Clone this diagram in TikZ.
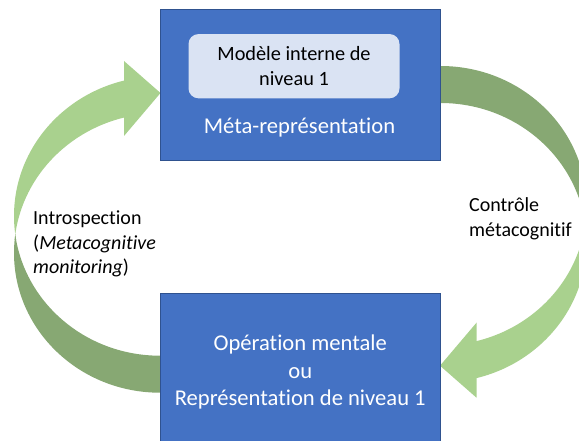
\documentclass[tikz,border=0pt]{standalone}
\usepackage{fontspec}
\setmainfont{Carlito}[Ligatures={NoCommon}]
\definecolor{boxblue}{HTML}{4472C4}
\definecolor{boxedge}{HTML}{2F528F}
\definecolor{innerfill}{HTML}{DAE3F3}
\definecolor{lightgreen}{HTML}{A9D18E}
\definecolor{darkgreen}{HTML}{87A873}
\begin{document}
\begin{tikzpicture}[x=1pt,y=-1pt,
  bluebox/.style={draw=boxedge, line width=0.8pt, fill=boxblue, inner sep=0pt},
  innerbox/.style={fill=innerfill, rounded corners=10pt, inner sep=0pt,
    minimum width=211pt, minimum height=64.3pt, align=center,
    font=\fontsize{20.3}{24.7}\selectfont},
  boxtext/.style={text=white, inner sep=0pt, align=center,
    font=\fontsize{22.6}{27.7}\selectfont},
  sidetext/.style={text=black, inner sep=0pt, align=left,
    font=\fontsize{20}{24.5}\selectfont},
  cyclearrow/.pic={
    \begin{scope}
      \clip (0,0) rectangle (125,240);
      \fill[lightgreen, even odd rule]
        (160,216) ellipse [x radius=146pt, y radius=139.7pt]
        (160,253) ellipse [x radius=146pt, y radius=139.7pt];
    \end{scope}
    \begin{scope}
      \clip (0,234.5) rectangle (160.5,441);
      \fill[darkgreen, even odd rule]
        (160,216) ellipse [x radius=146pt, y radius=139.7pt]
        (160,253) ellipse [x radius=146pt, y radius=139.7pt];
    \end{scope}
    \fill[lightgreen] (124,61) -- (160.5,93) -- (124,136) -- cycle;
  }]
\useasboundingbox (0,0) rectangle (579,441);

% curved arrows
\pic at (0,0) {cyclearrow};
\pic[rotate=180] at (600.5,458.7) {cyclearrow};

% boxes
\node[bluebox, minimum width=280.5pt, minimum height=151.7pt] (meta) at (300.25,84.85) {};
\node[innerbox] (modele) at (294,66.2) {Modèle interne de\\niveau 1};
\node[boxtext, anchor=base] (metalabel) at (299.5,133.3) {Méta-représentation};
\node[bluebox, minimum width=280.5pt, minimum height=158pt] (oper) at (300.25,372) {};
\node[boxtext] (opertext) at (oper.center) {Opération mentale\\ou\\Représentation de niveau 1};

% side labels
\node[sidetext, anchor=north west] (intro) at (33,211) {Introspection\\(\textit{Metacognitive}\\\textit{monitoring})};
\node[sidetext, anchor=north west] (controle) at (469,197.5) {Contrôle\\métacognitif};
\end{tikzpicture}
\end{document}
